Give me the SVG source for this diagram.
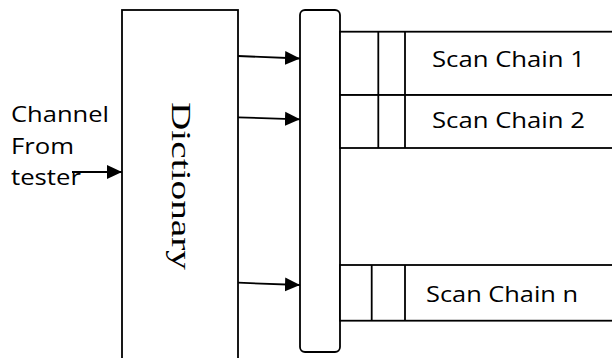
<svg xmlns="http://www.w3.org/2000/svg" width="612" height="358" viewBox="0 0 612 358">
<style>
.box{fill:#fff;stroke:#000;stroke-width:1.8}
.ln{stroke:#000;stroke-width:1.8;fill:none}
.lbl{font-family:"Open Sans","Liberation Sans",sans-serif;font-size:21px;fill:#000}
.dict{font-family:"Liberation Serif","Times New Roman",serif;font-size:28px;fill:#000}
</style>
<defs>
<marker id="arr" markerUnits="userSpaceOnUse" markerWidth="16" markerHeight="16" viewBox="0 0 16 16" refX="15" refY="8" orient="auto">
<path d="M0,1 L15,8 L0,15 Z" fill="#000"/>
</marker>
</defs>
<g id="input-label">
<text class="lbl" x="11" y="122" textLength="98" lengthAdjust="spacingAndGlyphs">Channel</text>
<text class="lbl" x="11" y="154" textLength="63" lengthAdjust="spacingAndGlyphs">From</text>
<text class="lbl" x="11" y="185" textLength="70" lengthAdjust="spacingAndGlyphs">tester</text>
</g>
<g id="dictionary">
<rect class="box" x="122" y="10" width="116" height="360"/>
<text class="dict" transform="translate(172,102) rotate(90)" textLength="168" lengthAdjust="spacingAndGlyphs">Dictionary</text>
</g>
<g id="bus">
<rect class="box" x="300" y="10" width="40" height="342" rx="5" ry="5"/>
</g>
<g id="scan-chain-1">
<rect class="box" x="340" y="31.7" width="280" height="63.3"/>
<line class="ln" x1="378.3" y1="31.7" x2="378.3" y2="95"/>
<line class="ln" x1="405" y1="31.7" x2="405" y2="95"/>
<text class="lbl" x="432" y="67" textLength="153" lengthAdjust="spacingAndGlyphs">Scan Chain 1</text>
</g>
<g id="scan-chain-2">
<rect class="box" x="340" y="95" width="280" height="53"/>
<line class="ln" x1="378.3" y1="95" x2="378.3" y2="148"/>
<line class="ln" x1="405" y1="95" x2="405" y2="148"/>
<text class="lbl" x="432" y="128" textLength="153" lengthAdjust="spacingAndGlyphs">Scan Chain 2</text>
</g>
<g id="scan-chain-n">
<rect class="box" x="340" y="265" width="280" height="55.7"/>
<line class="ln" x1="371.7" y1="265" x2="371.7" y2="320.7"/>
<line class="ln" x1="405" y1="265" x2="405" y2="320.7"/>
<text class="lbl" x="426" y="302" textLength="152" lengthAdjust="spacingAndGlyphs">Scan Chain n</text>
</g>
<g id="connectors">
<line class="ln" x1="72" y1="172" x2="122" y2="172" marker-end="url(#arr)"/>
<line class="ln" x1="238" y1="56" x2="300" y2="58.5" marker-end="url(#arr)"/>
<line class="ln" x1="238" y1="117.3" x2="300" y2="119.3" marker-end="url(#arr)"/>
<line class="ln" x1="238" y1="282.7" x2="300" y2="285" marker-end="url(#arr)"/>
</g>
</svg>
